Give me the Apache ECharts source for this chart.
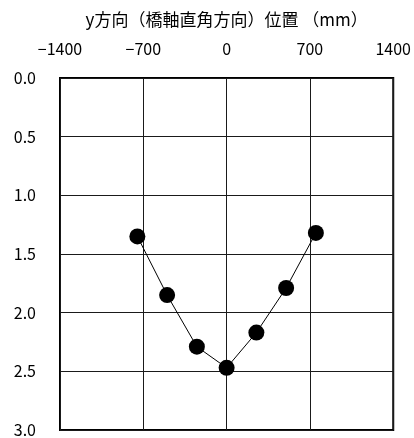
<!DOCTYPE html>
<html>
<head>
<meta charset="utf-8">
<script src="https://cdn.jsdelivr.net/npm/echarts@6/dist/echarts.min.js"></script>
<style>
  html, body { margin: 0; padding: 0; background: #fff; }
  #chart { width: 414px; height: 438px; }
</style>
</head>
<body>
<div id="chart"></div>
<script>
// lateral position (mm) and measured depth at each point
const positions = [-750, -500, -250, 0, 250, 500, 750];
const depths = [1.35, 1.85, 2.29, 2.47, 2.17, 1.79, 1.32];
const xTitle = 'y方向（橋軸直角方向）位置 （mm）';

const font = '"Noto Sans CJK JP", "Noto Sans", sans-serif';
const minusFmt = v => String(v).replace('-', '−');

const chart = echarts.init(document.getElementById('chart'));
chart.setOption({
  animation: false,
  grid: {
    left: 60, right: 20, top: 78, bottom: 7,
    show: true, borderColor: '#000', borderWidth: 2
  },
  xAxis: {
    type: 'value', position: 'top',
    min: -1400, max: 1400, interval: 700,
    name: xTitle, nameLocation: 'middle', nameGap: 50,
    nameTextStyle: { fontFamily: font, fontSize: 17, color: '#000' },
    axisLine: { show: false },
    axisTick: { show: false },
    axisLabel: { fontFamily: font, fontSize: 16, color: '#000', margin: 21, formatter: minusFmt },
    splitLine: { show: true, lineStyle: { color: '#1a1a1a', width: 1 } }
  },
  yAxis: {
    type: 'value', inverse: true,
    min: 0, max: 3, interval: 0.5,
    axisLine: { show: false },
    axisTick: { show: false },
    axisLabel: { fontFamily: font, fontSize: 16, color: '#000', margin: 24, formatter: v => v.toFixed(1) },
    splitLine: { show: true, lineStyle: { color: '#1a1a1a', width: 1 } }
  },
  series: [{
    type: 'line',
    data: positions.map((x, i) => [x, depths[i]]),
    symbol: 'circle', symbolSize: 16,
    itemStyle: { color: '#000' },
    lineStyle: { color: '#000', width: 1 }
  }]
});
</script>
</body>
</html>
